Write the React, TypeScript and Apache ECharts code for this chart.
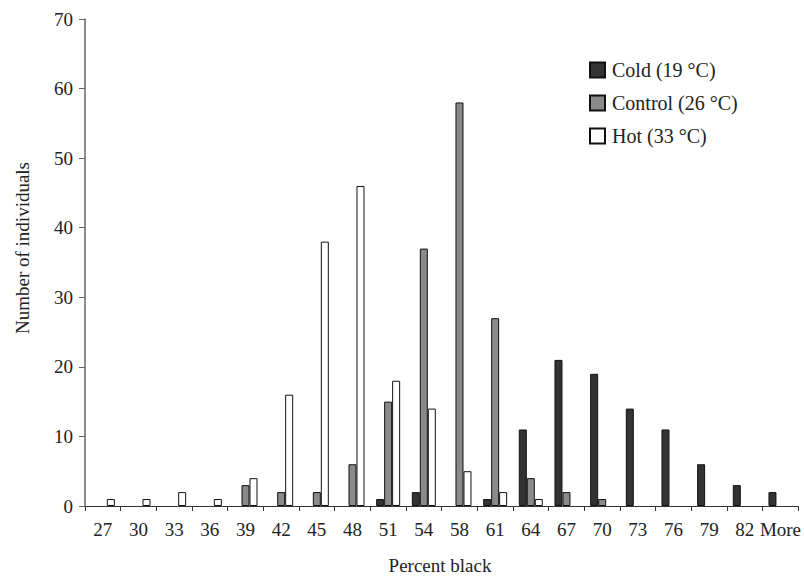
import React, { useEffect, useRef } from "react";
import * as echarts from "echarts";

const categories = ["27", "30", "33", "36", "39", "42", "45", "48", "51", "54", "58", "61", "64", "67", "70", "73", "76", "79", "82", "More"];
const coldValues = [0, 0, 0, 0, 0, 0, 0, 0, 1, 2, 0, 1, 11, 21, 19, 14, 11, 6, 3, 2];
const controlValues = [0, 0, 0, 0, 3, 2, 2, 6, 15, 37, 58, 27, 4, 2, 1, 0, 0, 0, 0, 0];
const hotValues = [1, 1, 2, 1, 4, 16, 38, 46, 18, 14, 5, 2, 1, 0, 0, 0, 0, 0, 0, 0];
const seriesNames = ["Cold (19 °C)", "Control (26 °C)", "Hot (33 °C)"];
const yTicks = { min: 0, max: 70, interval: 10 };

const FONT = "'Liberation Serif', 'Times New Roman', serif";

export default function App() {
  const ref = useRef<HTMLDivElement>(null);
  useEffect(() => {
    if (!ref.current) return;
    const chart = echarts.init(ref.current, null, { renderer: "svg" });
    const mk = (name: string, data: number[], color: string) => ({
      name,
      type: "bar",
      data: data.map((v) => (v === 0 ? "-" : v)),
      barWidth: 8,
      barGap: "0%",
      itemStyle: { color, borderColor: "#111", borderWidth: 1 },
    });
    chart.setOption({
      animation: false,
      backgroundColor: "#fff",
      textStyle: { fontFamily: FONT },
      grid: { left: 85, right: 4, top: 19, bottom: 73, containLabel: false },
      legend: {
        orient: "vertical",
        left: 584,
        top: 55,
        itemWidth: 15,
        itemHeight: 15,
        itemGap: 13,
        icon: "rect",
        textStyle: { fontFamily: FONT, fontSize: 20, color: "#222", padding: [0, 0, 0, 2] },
        data: seriesNames,
      },
      xAxis: {
        type: "category",
        data: categories,
        boundaryGap: true,
        axisLine: { lineStyle: { color: "#333", width: 1.2 } },
        axisTick: { show: true, alignWithLabel: false, length: 5, inside: false, lineStyle: { color: "#333" } },
        axisLabel: { fontFamily: FONT, fontSize: 19, color: "#222", margin: 14, interval: 0 },
      },
      yAxis: {
        type: "value",
        min: yTicks.min,
        max: yTicks.max,
        interval: yTicks.interval,
        splitLine: { show: false },
        axisLine: { show: true, lineStyle: { color: "#666", width: 1.5 } },
        axisTick: { show: true, length: 6, lineStyle: { color: "#666" } },
        axisLabel: { fontFamily: FONT, fontSize: 19, color: "#222", margin: 12 },
      },
      graphic: [
        {
          type: "text",
          x: 22,
          y: 248,
          rotation: Math.PI / 2,
          style: {
            text: "Number of individuals",
            fontFamily: FONT,
            fontSize: 19,
            fill: "#222",
            textAlign: "center",
            textVerticalAlign: "middle",
          },
        },
        {
          type: "text",
          x: 440,
          y: 565,
          style: {
            text: "Percent black",
            fontFamily: FONT,
            fontSize: 19,
            fill: "#222",
            textAlign: "center",
            textVerticalAlign: "middle",
          },
        },
      ],
      series: [
        mk(seriesNames[0], coldValues, "#333333"),
        mk(seriesNames[1], controlValues, "#8a8a8a"),
        mk(seriesNames[2], hotValues, "#ffffff"),
      ],
    });
    return () => chart.dispose();
  }, []);
  return <div ref={ref} style={{ width: 804, height: 579, position: "absolute", left: 0, top: 0 }} />;
}
